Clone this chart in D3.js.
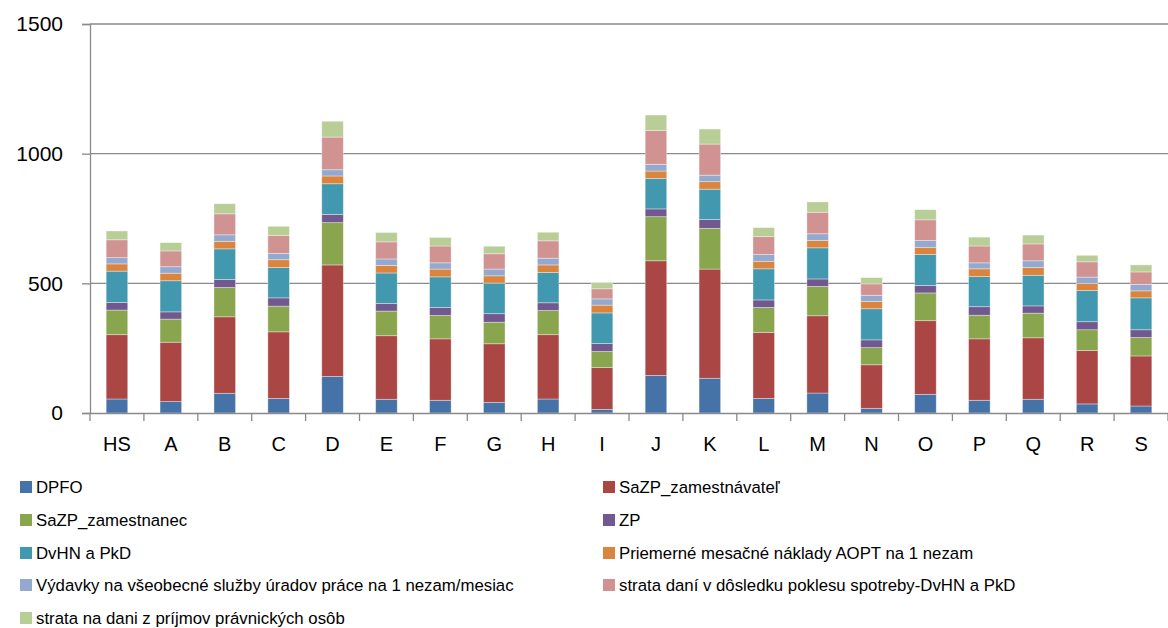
<!DOCTYPE html>
<html><head><meta charset="utf-8">
<script src="https://cdn.jsdelivr.net/npm/d3@7"></script>
<style>body{margin:0;background:#fff}svg{display:block}</style>
</head><body>
<svg id="c" width="1168" height="628"></svg>
<script>
const categories = ["HS","A","B","C","D","E","F","G","H","I","J","K","L","M","N","O","P","Q","R","S"];
const seriesNames = ["DPFO","SaZP_zamestnávateľ","SaZP_zamestnanec","ZP","DvHN a PkD","Priemerné mesačné náklady AOPT na 1 nezam","Výdavky na všeobecné služby úradov práce na 1 nezam/mesiac","strata daní v dôsledku poklesu spotreby-DvHN a PkD","strata na dani z príjmov právnických osôb"];
const DPFO       = [54,44,76,56,141,53,49,41,54,14,145,134,56,77,18,72,49,53,35,27];
const SaZP_zamv  = [248,229,295,257,430,245,237,226,248,161,442,421,255,298,168,284,237,237,206,193];
const SaZP_zamn  = [95,89,113,99,163,95,90,83,93,62,170,157,96,113,66,107,91,95,80,71];
const ZP         = [29,28,31,32,32,29,31,33,30,31,30,34,29,29,30,29,33,28,31,30];
const DvHN       = [121,120,118,117,118,118,118,118,117,118,117,117,120,120,120,119,116,118,120,123];
const AOPT       = [28,29,29,30,30,29,30,28,29,30,29,29,29,28,28,28,30,30,27,27];
const Vydavky    = [24,25,25,24,24,25,24,26,26,24,26,25,26,26,24,26,23,26,25,25];
const strataDvHN = [69,61,81,69,126,66,65,59,67,39,130,120,69,83,44,80,65,65,59,48];
const strataPO   = [34,32,39,36,61,36,33,29,33,24,60,58,35,40,24,39,34,34,25,27];
const seriesValues = [DPFO,SaZP_zamv,SaZP_zamn,ZP,DvHN,AOPT,Vydavky,strataDvHN,strataPO];
const yTicks = [0,500,1000,1500];
const colors = ["#4572A7","#AA4643","#89A54E","#71588F","#4198AF","#DB843D","#93A9CF","#D19392","#B9CD96"];

const svg = d3.select("#c");
const font = "'Liberation Sans', Arial, sans-serif";
const mLeft = 90, mRight = 1168, mTop = 24, mBottom = 413;

const rows = categories.map((c,i)=>{const r={cat:c}; seriesNames.forEach((s,j)=>r[s]=seriesValues[j][i]); return r;});
const stacked = d3.stack().keys(seriesNames)(rows);

const x = d3.scaleBand().domain(categories).range([mLeft, mRight]).paddingInner(0.6).paddingOuter(0.3);
const xb = d3.scaleBand().domain(categories).range([mLeft, mRight]);
const y = d3.scaleLinear().domain([0,1500]).range([mBottom, mTop]);

// gridlines
svg.append("g").selectAll("line").data(yTicks.filter(t=>t>0)).join("line")
  .attr("x1",mLeft).attr("x2",mRight).attr("y1",d=>y(d)).attr("y2",d=>y(d))
  .attr("stroke","#8a8a8a").attr("stroke-width",1.3);

// bars
svg.append("g").selectAll("g").data(stacked).join("g")
  .attr("fill",(d,i)=>colors[i])
  .selectAll("rect").data(d=>d).join("rect")
  .attr("x",d=>x(d.data.cat)).attr("width",x.bandwidth())
  .attr("y",d=>y(d[1])).attr("height",d=>y(d[0])-y(d[1]))
  .attr("stroke","rgba(255,255,255,0.45)").attr("stroke-width",0.8);

// y axis
const ya = svg.append("g").attr("transform",`translate(${mLeft},0)`)
  .call(d3.axisLeft(y).tickValues(yTicks).tickSize(8).tickPadding(19).tickFormat(d3.format("d")));
ya.select(".domain").attr("stroke","#8a8a8a").attr("stroke-width",1.3);
ya.selectAll(".tick line").attr("stroke","#8a8a8a").attr("stroke-width",1.3);
ya.selectAll("text").attr("font-family",font).attr("font-size",21).attr("fill","#000");

// x axis
const xa = svg.append("g").attr("transform",`translate(0,${mBottom})`)
  .call(d3.axisBottom(xb).tickSize(0).tickPadding(24));
xa.select(".domain").attr("stroke","#8a8a8a").attr("stroke-width",1.3);
xa.selectAll("text").attr("font-family",font).attr("font-size",20).attr("fill","#000");
svg.append("g").selectAll("line").data(categories.concat(["_end"])).join("line")
  .attr("x1",(d,i)=>mLeft+i*xb.step()).attr("x2",(d,i)=>mLeft+i*xb.step())
  .attr("y1",mBottom).attr("y2",mBottom+8).attr("stroke","#8a8a8a").attr("stroke-width",1.3);

// legend
const lg = svg.append("g");
const legendItems = seriesNames.map((n,i)=>({n,i,col:i%2,row:Math.floor(i/2)}));
const colX = [20,603], rowY = [487,520,553,585,618];
const li = lg.selectAll("g").data(legendItems).join("g")
  .attr("transform",d=>`translate(${colX[d.col]},${rowY[d.row]})`);
li.append("rect").attr("x",0).attr("y",-6).attr("width",12).attr("height",12).attr("fill",d=>colors[d.i]);
li.append("text").attr("x",16).attr("y",0).attr("dy","0.35em")
  .attr("font-family",font).attr("font-size",16.8).attr("fill","#000").text(d=>d.n);
</script>
</body></html>
